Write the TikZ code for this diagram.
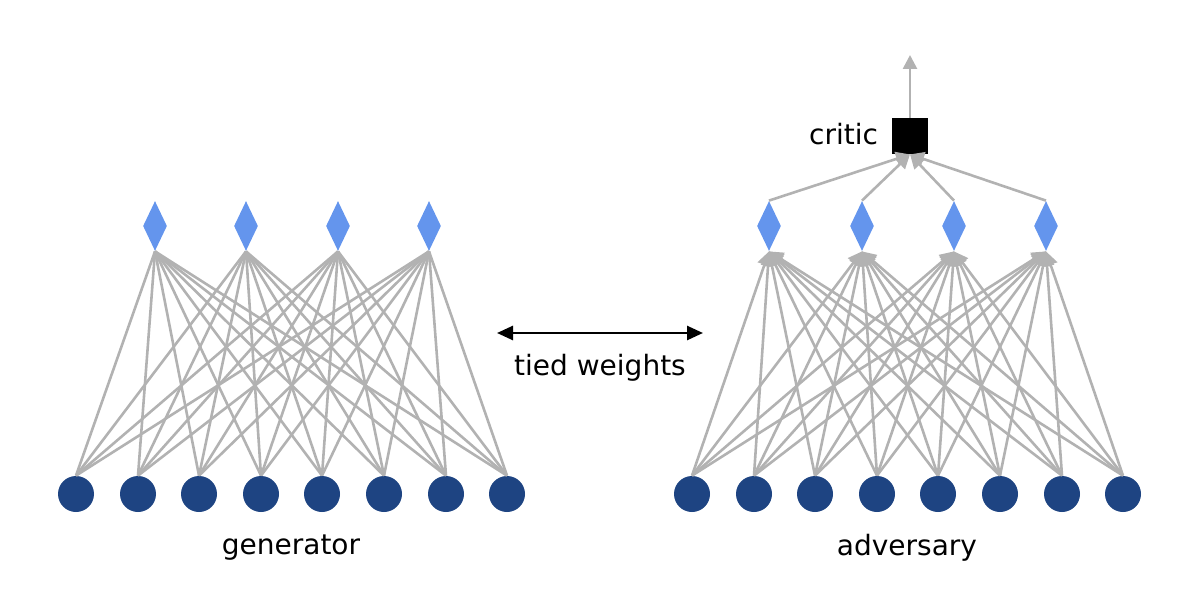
\documentclass[tikz,border=0pt]{standalone}
\usepackage{fontspec}
\setmainfont{DejaVu Sans}
\usetikzlibrary{shapes.geometric,arrows.meta}
\begin{document}
\begin{tikzpicture}[x=0.5pt,y=-0.5pt,
  inp/.style={circle,fill=blue!60!black!70,fill={rgb,255:red,30;green,68;blue,130},minimum size=18pt,inner sep=0},
  hid/.style={diamond,fill={rgb,255:red,100;green,149;blue,237},minimum width=12pt,minimum height=25pt,inner sep=0,aspect=0.5},
  edge/.style={draw={rgb,255:red,178;green,178;blue,178},line width=1.3pt},
  aedge/.style={edge,-{Triangle[width=7pt,length=7pt]}},
  lbl/.style={font=\fontsize{14}{16}\selectfont}]
\useasboundingbox (0,0) rectangle (1200,599);
\foreach \x [count=\i] in {76,138,199,261,322,384,446,507} \node[inp] (g\i) at (\x,494) {};
\foreach \x [count=\i] in {155,246,338,429} \node[hid] (gh\i) at (\x,226) {};
\foreach \x [count=\i] in {692,754,815,877,938,1000,1062,1123} \node[inp] (a\i) at (\x,494) {};
\foreach \x [count=\i] in {769,862,954,1046} \node[hid] (ah\i) at (\x,226) {};
\foreach \i in {1,...,8} \foreach \j in {1,...,4} {
  \draw[edge] (g\i.north) -- (gh\j.south);
  \draw[aedge] (a\i.north) -- (ah\j.south);
}
\node[fill=black,minimum size=18pt,inner sep=0] (c) at (910,136) {};
\coordinate (top) at (910,55);
\foreach \j in {1,...,4} \draw[aedge] (ah\j.north) -- (c.south);
\draw[aedge] (c.north) -- (top);
\node[lbl,anchor=east] (cl) at (885,134) {critic};
\coordinate (l) at (497,333); \coordinate (r) at (703,333);
\draw[line width=1.3pt,{Triangle[width=7pt,length=8pt]}-{Triangle[width=7pt,length=8pt]}] (l) -- (r);
\node[lbl] (tw) at (600,368) {tied weights};
\node[lbl] (gen) at (291,548) {generator};
\node[lbl] (adv) at (907,548) {adversary};
\end{tikzpicture}
\end{document}
